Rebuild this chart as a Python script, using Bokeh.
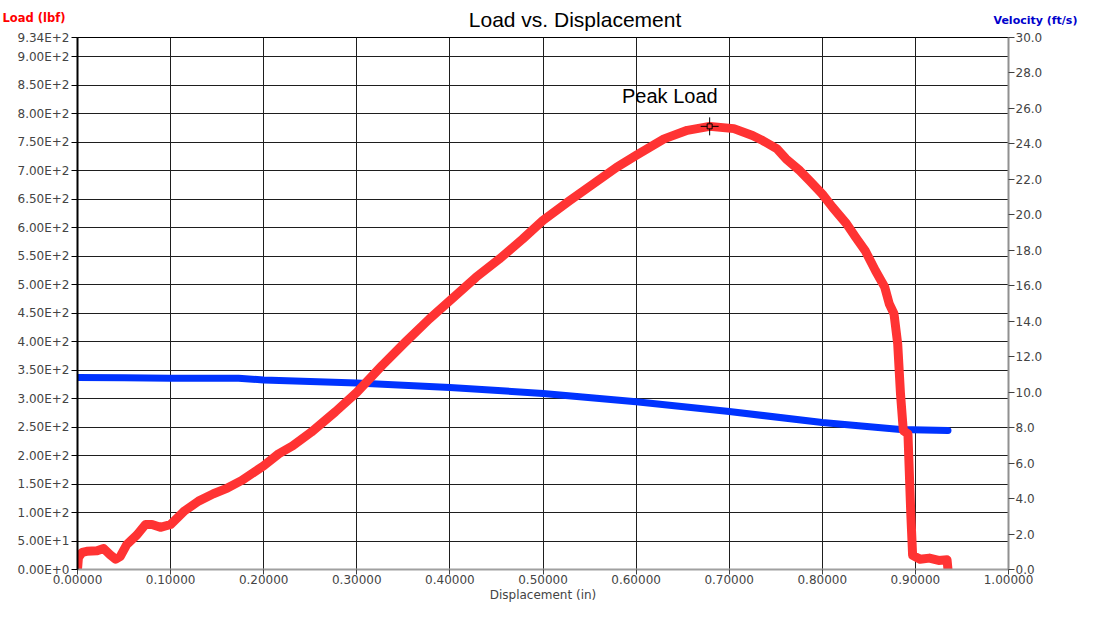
from bokeh.plotting import figure
from bokeh.models import Range1d, LinearAxis, FixedTicker, CustomJSTickFormatter, Label
from bokeh.embed import file_html
from bokeh.resources import INLINE

# ---- data ----
load_disp = [0.000, 0.001, 0.005, 0.010, 0.021, 0.028, 0.035, 0.041, 0.046, 0.053,
             0.064, 0.073, 0.080, 0.089, 0.100, 0.115, 0.130, 0.146, 0.161, 0.176,
             0.200, 0.216, 0.231, 0.251, 0.277, 0.300, 0.327, 0.352, 0.378, 0.400,
             0.428, 0.453, 0.478, 0.500, 0.529, 0.554, 0.579, 0.600, 0.630, 0.655,
             0.679, 0.705, 0.725, 0.736, 0.751, 0.761, 0.776, 0.786, 0.800, 0.811,
             0.826, 0.836, 0.846, 0.857, 0.867, 0.872, 0.877, 0.881, 0.884, 0.887,
             0.892, 0.895, 0.897, 0.905, 0.915, 0.925, 0.934, 0.935]
load_lbf = [0, 21, 30, 32, 33, 37, 26, 18, 23, 44,
            61, 79, 79, 74, 79, 103, 120, 133, 143, 156,
            182, 203, 217, 241, 277, 311, 358, 399, 440, 472,
            513, 545, 580, 613, 648, 677, 706, 727, 756, 771,
            778, 774, 762, 753, 739, 721, 700, 683, 659, 636,
            607, 583, 560, 525, 496, 466, 449, 396, 308, 244,
            238, 100, 25, 18, 20, 16, 17, 0]

vel_disp = [0.000, 0.050, 0.100, 0.173, 0.200, 0.300, 0.400, 0.500, 0.600, 0.700,
            0.800, 0.884, 0.935]
vel_fts = [10.83, 10.82, 10.79, 10.79, 10.68, 10.51, 10.27, 9.93, 9.46, 8.91,
           8.29, 7.90, 7.84]

peak_disp = [0.679]
peak_load = [778]

x_ticks = [0.0, 0.1, 0.2, 0.3, 0.4, 0.5, 0.6, 0.7, 0.8, 0.9, 1.0]
load_ticks = [0, 50, 100, 150, 200, 250, 300, 350, 400, 450, 500, 550, 600, 650,
              700, 750, 800, 850, 900, 934]
vel_ticks = [0, 2, 4, 6, 8, 10, 12, 14, 16, 18, 20, 22, 24, 26, 28, 30]

FONT = "DejaVu Sans"

p = figure(width=1094, height=617, x_range=Range1d(0, 1), y_range=Range1d(0, 934),
           output_backend="svg", toolbar_location=None,
           min_border_left=77, min_border_right=86, min_border_top=37, min_border_bottom=47,
           background_fill_color="white", border_fill_color="white")
p.extra_y_ranges = {"vel": Range1d(0, 30)}
p.outline_line_color = "black"
p.outline_line_width = 1

# x axis
xa = p.xaxis[0]
xa.ticker = FixedTicker(ticks=x_ticks)
xa.formatter = CustomJSTickFormatter(code="return tick.toFixed(5)")
xa.axis_label = "Displacement (in)"
xa.axis_label_text_font = FONT
xa.axis_label_text_font_style = "normal"
xa.axis_label_text_font_size = "12px"
xa.axis_label_standoff = 1
xa.major_label_text_font = FONT
xa.major_label_text_font_size = "12px"
xa.major_label_standoff = 0
xa.axis_line_color = "#a0a0a0"
xa.axis_line_width = 2
xa.major_tick_line_color = "#404040"
xa.major_tick_out = 5
xa.major_tick_in = 0
xa.minor_tick_line_color = None

# left axis
ya = p.yaxis[0]
ya.ticker = FixedTicker(ticks=load_ticks)
ya.formatter = CustomJSTickFormatter(code="""
if (tick == 0) { return "0.00E+0"; }
const e = Math.floor(Math.log10(Math.abs(tick)));
const m = tick / Math.pow(10, e);
return m.toFixed(2) + "E+" + e;
""")
ya.major_label_text_font = FONT
ya.major_label_text_font_size = "12px"
ya.major_label_standoff = 2
ya.axis_line_color = "black"
ya.axis_line_width = 2
ya.major_tick_line_color = "black"
ya.major_tick_out = 6
ya.major_tick_in = 0
ya.minor_tick_line_color = None

# right axis
ra = LinearAxis(y_range_name="vel", ticker=FixedTicker(ticks=vel_ticks),
                formatter=CustomJSTickFormatter(code="return tick.toFixed(1)"))
ra.major_label_text_font = FONT
ra.major_label_text_font_size = "12px"
ra.major_label_standoff = 1
ra.axis_line_color = "#909090"
ra.axis_line_width = 2
ra.major_tick_line_color = "#404040"
ra.major_tick_out = 6
ra.major_tick_in = 0
ra.minor_tick_line_color = None
p.add_layout(ra, "right")

# grids
p.xgrid.ticker = FixedTicker(ticks=x_ticks)
p.ygrid.ticker = FixedTicker(ticks=load_ticks)
for g in (p.xgrid[0], p.ygrid[0]):
    g.grid_line_color = "#1e1e1e"
    g.grid_line_width = 1

# series
p.line(vel_disp, vel_fts, y_range_name="vel", line_color="#0033ff", line_width=7,
       line_cap="round", line_join="round")
p.line(load_disp, load_lbf, line_color="#ff3333", line_width=9,
       line_cap="butt", line_join="round")

# peak marker
p.scatter(peak_disp, peak_load, marker="cross", size=18, line_color="black", line_width=1)
p.scatter(peak_disp, peak_load, marker="square", size=5, fill_color="#ff3333",
          line_color="black", line_width=1)

p.add_layout(Label(x=peak_disp[0], y=peak_load[0], text="Peak Load", text_align="right",
                   x_offset=8, y_offset=19, text_font="Liberation Sans",
                   text_font_size="20px", text_color="black"))

# texts outside the frame: labels held by the side panels (positions in data coords)
p.add_layout(Label(x=0.5344, y=934, text="Load vs. Displacement", text_align="center",
                   text_baseline="alphabetic", y_offset=18, text_font="Liberation Sans",
                   text_font_size="21px", text_color="black"), "above")
p.add_layout(Label(x=0, y=934, text="Load (lbf)", text_align="left",
                   text_baseline="alphabetic", x_offset=-75, y_offset=20, text_font=FONT,
                   text_font_style="bold", text_font_size="11.5px", text_color="#ff0000"),
             "above")
p.add_layout(Label(x=1, y=934, text="Velocity (ft/s)", text_align="left",
                   text_baseline="alphabetic", x_offset=-15, y_offset=17, text_font=FONT,
                   text_font_style="bold", text_font_size="11px", text_color="#0000cc"),
             "below")

open("out.html", "w").write(file_html(p, INLINE))
